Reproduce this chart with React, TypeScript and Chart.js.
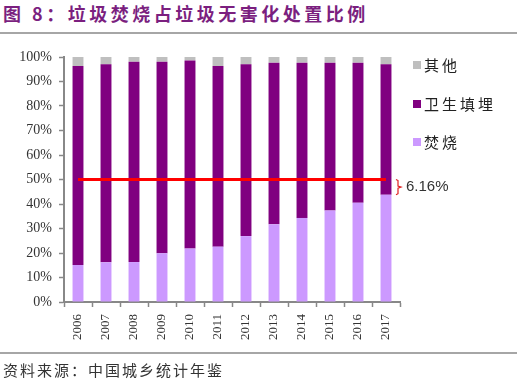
import React, { useEffect, useRef } from "react";
import { Chart, registerables } from "chart.js";

Chart.register(...registerables);

const years = ["2006", "2007", "2008", "2009", "2010", "2011", "2012", "2013", "2014", "2015", "2016", "2017"];
const incineration = [15.1, 16.2, 16.3, 19.9, 21.8, 22.6, 26.9, 31.7, 34.3, 37.3, 40.5, 43.8];
const landfill = [81.2, 80.8, 81.8, 78.2, 76.8, 73.7, 70.1, 66.0, 63.4, 60.4, 57.2, 53.2];
const other = [3.7, 3.0, 1.9, 1.9, 1.4, 3.7, 3.0, 2.3, 2.3, 2.3, 2.3, 3.0];
const targetLevel = 50;
const gapLabel = "6.16%";
const yTicks = [0, 10, 20, 30, 40, 50, 60, 70, 80, 90, 100];

const COLORS = { other: "#BFBFBF", landfill: "#800080", incineration: "#CC99FF", red: "#FF0000" };

const extrasPlugin = {
  id: "extras",
  afterDatasetsDraw(chart: any) {
    const ctx = chart.ctx;
    const x = chart.scales.x;
    const y = chart.scales.y;
    const last = years.length - 1;
    // bracket between red line and last incineration value
    const yTop = y.getPixelForValue(targetLevel);
    const yBot = y.getPixelForValue(incineration[last]);
    const bx = x.getPixelForValue(last) + 10;
    const mid = (yTop + yBot) / 2;
    ctx.save();
    ctx.strokeStyle = "#E02020";
    ctx.lineWidth = 1.2;
    ctx.beginPath();
    ctx.moveTo(bx, yTop);
    ctx.lineTo(bx + 2, yTop + 1);
    ctx.lineTo(bx + 2, mid - 1);
    ctx.lineTo(bx + 5, mid);
    ctx.lineTo(bx + 2, mid + 1);
    ctx.lineTo(bx + 2, yBot - 1);
    ctx.lineTo(bx, yBot);
    ctx.stroke();
    ctx.fillStyle = "#333";
    ctx.font = '15px "Liberation Sans", Arial, sans-serif';
    ctx.textBaseline = "middle";
    ctx.textAlign = "left";
    ctx.fillText(gapLabel, bx + 10, mid);

    // legend
    const items = [
      { label: "其他", color: COLORS.other, cy: 65 },
      { label: "卫生填埋", color: COLORS.landfill, cy: 104 },
      { label: "焚烧", color: COLORS.incineration, cy: 142 },
    ];
    ctx.font = '15px "Noto Sans CJK SC", sans-serif';
    (ctx as any).letterSpacing = "3px";
    items.forEach((it) => {
      ctx.fillStyle = it.color;
      ctx.fillRect(413, it.cy - 4, 8, 8);
      ctx.fillStyle = "#222";
      ctx.fillText(it.label, 424, it.cy);
    });
    ctx.restore();
  },
};

export default function App() {
  const ref = useRef<HTMLCanvasElement>(null);
  useEffect(() => {
    if (!ref.current) return;
    const chart = new Chart(ref.current, {
      type: "bar",
      data: {
        labels: years,
        datasets: [
          {
            type: "line",
            label: "50%",
            data: years.map(() => targetLevel),
            borderColor: COLORS.red,
            borderWidth: 3,
            pointRadius: 0,
            yAxisID: "y2",
            order: 0,
          } as any,
          { label: "焚烧", data: incineration, backgroundColor: COLORS.incineration, order: 1 },
          { label: "卫生填埋", data: landfill, backgroundColor: COLORS.landfill, order: 1 },
          { label: "其他", data: other, backgroundColor: COLORS.other, order: 1 },
        ],
      },
      options: {
        responsive: false,
        animation: false,
        layout: { padding: { left: 0, right: 117, top: 57, bottom: 0 } },
        datasets: { bar: { barPercentage: 0.39, categoryPercentage: 1 } },
        plugins: { legend: { display: false }, tooltip: { enabled: false } },
        scales: {
          x: {
            stacked: true,
            grid: { display: true, drawOnChartArea: false, offset: true, tickLength: 5, color: "#888", tickWidth: 1.5 },
            border: { color: "#888", width: 2 },
            ticks: {
              minRotation: 90,
              maxRotation: 90,
              padding: 7,
              color: "#333",
              font: { family: '"Liberation Serif", "Times New Roman", serif', size: 13 },
            },
            afterFit: (s: any) => { s.height = 87; },
          },
          y: {
            stacked: true,
            min: 0,
            max: 100,
            afterBuildTicks: (s: any) => { s.ticks = yTicks.map((v) => ({ value: v })); },
            grid: { display: true, drawOnChartArea: false, tickLength: 5, color: "#888", tickWidth: 1.5 },
            border: { color: "#888", width: 2 },
            ticks: {
              padding: 7,
              color: "#333",
              callback: (v: any) => v + "%",
              font: { family: '"Liberation Serif", "Times New Roman", serif', size: 14 },
            },
            afterFit: (s: any) => { s.width = 64; },
          },
          y2: { display: false, min: 0, max: 100 },
        },
      },
      plugins: [extrasPlugin],
    } as any);
    return () => chart.destroy();
  }, []);

  return (
    <div style={{ position: "fixed", left: 0, top: 0, width: 517, height: 389, background: "#fff", overflow: "hidden" }}>
      <div
        style={{
          position: "absolute",
          left: 3,
          top: 4,
          lineHeight: "19px",
          fontFamily: '"Noto Sans CJK SC", sans-serif',
          fontWeight: 700,
          fontSize: 18,
          letterSpacing: "3.5px",
          color: "#7B1F7F",
          whiteSpace: "nowrap",
        }}
      >
        图 8：垃圾焚烧占垃圾无害化处置比例
      </div>
      <div style={{ position: "absolute", left: 0, top: 32, width: 517, height: 2, background: "#A6A6A6" }} />
      <canvas ref={ref} width={517} height={389} style={{ position: "absolute", left: 0, top: 0 }} />
      <div style={{ position: "absolute", left: 0, top: 352, width: 517, height: 2, background: "#A6A6A6" }} />
      <div
        style={{
          position: "absolute",
          left: 3,
          top: 362,
          lineHeight: "16px",
          fontFamily: '"Noto Sans CJK SC", sans-serif',
          fontSize: 15,
          letterSpacing: "2px",
          color: "#333",
          whiteSpace: "nowrap",
        }}
      >
        资料来源：中国城乡统计年鉴
      </div>
    </div>
  );
}
